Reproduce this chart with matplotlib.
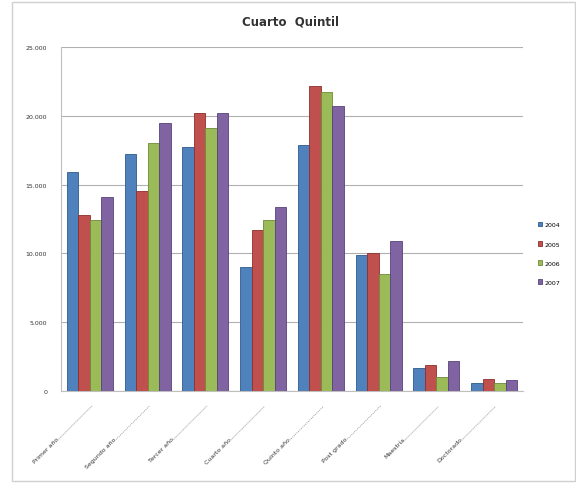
import numpy as np
import matplotlib
matplotlib.use("Agg")
import matplotlib.pyplot as plt
from matplotlib.patches import Rectangle
from matplotlib.ticker import FuncFormatter

# data
categories = ["Primer año", "Segundo año", "Tercer año", "Cuarto año",
              "Quinto año", "Post grado", "Maestría", "Doctorado"]
years = ["2004", "2005", "2006", "2007"]
v2004 = [15900, 17200, 17700, 9000, 17900, 9900, 1700, 600]
v2005 = [12800, 14500, 20200, 11700, 22200, 10000, 1900, 900]
v2006 = [12400, 18000, 19100, 12400, 21700, 8500, 1000, 600]
v2007 = [14100, 19500, 20200, 13400, 20700, 10900, 2200, 800]
series = [v2004, v2005, v2006, v2007]
colors = ["#4F81BD", "#C0504D", "#9BBB59", "#8064A2"]
edges = ["#2E5A8C", "#8E2F2C", "#6E8A38", "#57427A"]

fig = plt.figure(figsize=(5.76, 4.85), dpi=100)
# light outer frame like the original chart object
fig.patches.append(Rectangle((12 / 576, 3 / 485), 563 / 576, 479 / 485,
                             transform=fig.transFigure, fill=False,
                             edgecolor="#D0D0D0", linewidth=1.0))

ax = fig.add_axes([61 / 576, 93 / 485, 462 / 576, 344 / 485])

x = np.arange(len(categories))
w = 0.2
for i, vals in enumerate(series):
    ax.bar(x - 0.3 + i * w, vals, width=w, color=colors[i],
           edgecolor=edges[i], linewidth=0.6, label=years[i], zorder=3)

ax.set_xlim(-0.5, len(categories) - 0.5)
ax.set_ylim(0, 25000)
ax.set_yticks(np.arange(0, 25001, 5000))
ax.yaxis.set_major_formatter(FuncFormatter(
    lambda v, p: "0" if v == 0 else "{:,.0f}".format(v).replace(",", ".")))
ax.tick_params(axis="y", labelsize=4.5, length=0, pad=10, colors="#333333")
ax.grid(axis="y", color="#B0B0B0", linewidth=0.8, zorder=0)

ax.set_xticks(x)
ax.set_xticklabels([c + "........................" for c in categories],
                   rotation=45, ha="right", rotation_mode="anchor",
                   fontsize=4.5, color="#333333")
ax.tick_params(axis="x", length=0, pad=8)

for s in ["top", "right"]:
    ax.spines[s].set_visible(False)
ax.spines["left"].set_color("#BFBFBF")
ax.spines["bottom"].set_color("#BFBFBF")

fig.text(290 / 576, 1 - 22 / 485, "Cuarto  Quintil", ha="center", va="center",
         fontsize=8.5, fontweight="bold", color="#333333")

ax.legend(loc="center left", bbox_to_anchor=(1.02, 0.4), frameon=False,
          fontsize=4.5, handlelength=0.7, handleheight=0.7,
          labelspacing=2.2, handletextpad=0.4)

fig.savefig("out.png", dpi=100)
